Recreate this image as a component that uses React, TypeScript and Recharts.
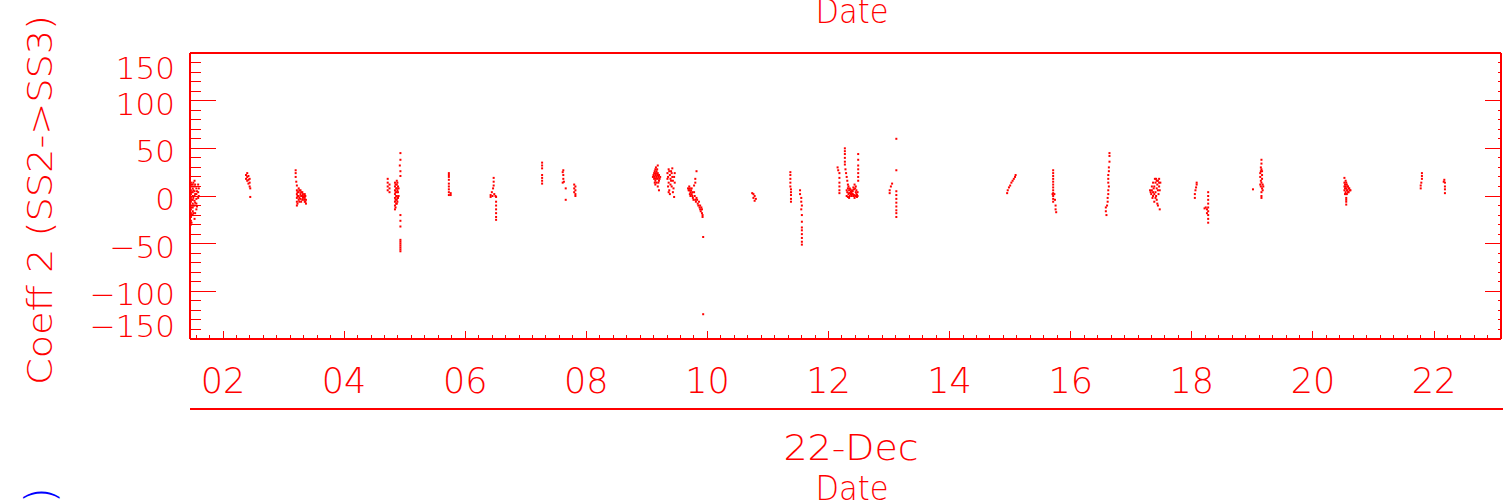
import { ScatterChart, Scatter, XAxis, YAxis, Customized } from 'recharts'

const RED = '#ff0000'
const FONT = '"DejaVu Sans", sans-serif'

// [day of December, coeff 2]
const earlyDec: [number, number][] = [
  [1.47, 14], [1.47, 10], [1.47, 6], [1.47, 2], [1.47, -2], [1.47, -6], [1.47, -10], [1.47, -14],
  [1.47, -18], [1.47, -22], [1.47, -26], [1.47, -30], [1.5, 12], [1.5, 8], [1.5, 4], [1.5, 0],
  [1.5, -4], [1.5, -8], [1.5, -12], [1.5, -16], [1.5, -20], [1.53, 16], [1.53, 10], [1.53, 5],
  [1.53, 0], [1.53, -5], [1.53, -10], [1.53, -24], [1.56, 8], [1.56, 2], [1.56, -3], [1.56, -8],
  [1.56, -14], [1.59, 12], [1.59, 4], [1.59, -2],
  [1.48, 12], [1.48, 4], [1.48, -4], [1.48, -12], [1.48, -20], [1.48, -28], [1.51, 14], [1.51, 6],
  [1.51, -2], [1.51, -10], [1.51, -18], [1.54, 12], [1.54, 2], [1.54, -7], [1.54, -18], [1.57, 5],
  [1.57, -11], [1.6, 8], [1.6, 0],
  [2.38, 22], [2.38, 18], [2.4, 24], [2.4, 20], [2.4, 16], [2.42, 21], [2.42, 17], [2.42, 13],
  [2.44, 18], [2.44, 14], [2.44, 10], [2.45, 8], [2.45, -1],
  [3.2, 27], [3.2, 24], [3.2, 20], [3.21, 15], [3.22, 11], [3.22, 6], [3.22, 2], [3.22, -2],
  [3.22, -6], [3.22, -10], [3.25, 8], [3.25, 4], [3.25, 0], [3.25, -4], [3.28, 6], [3.28, 2],
  [3.28, -3], [3.31, 4], [3.31, 0], [3.31, -4], [3.33, -1], [3.35, 2], [3.35, -2], [3.35, -6],
  [3.37, -4], [3.37, -8],
  [3.23, 4], [3.23, 0], [3.23, -8], [3.26, 6], [3.26, -2], [3.26, -6], [3.29, 4], [3.29, 0],
  [3.29, -6], [3.32, 2], [3.32, -2], [3.34, 0], [3.34, -4], [3.36, -6], [3.36, 0],
  [4.72, 18], [4.72, 14], [4.72, 10], [4.72, 6], [4.75, 12], [4.75, 8], [4.75, 4],
  [4.84, 14], [4.84, 10], [4.84, 6], [4.84, 2], [4.84, -2], [4.84, -6], [4.84, -10], [4.84, -14],
  [4.87, 16], [4.87, 12], [4.87, 8], [4.87, 4], [4.87, 0], [4.87, -4], [4.87, -8], [4.89, 10],
  [4.89, 4], [4.89, -2], [4.93, 45], [4.93, 38], [4.92, 32], [4.93, 26], [4.93, 21], [4.93, -20],
  [4.93, -26], [4.93, -32], [4.93, -46], [4.93, -48], [4.93, -50], [4.93, -52], [4.93, -54],
  [4.93, -56], [4.93, -58],
  [4.85, 12], [4.85, 4], [4.85, -4], [4.85, -12], [4.86, 8], [4.86, 0], [4.86, -8], [4.88, 14],
  [4.88, 6], [4.88, -2], [4.88, -6], [4.9, 8], [4.9, 0],
  [5.73, 24], [5.73, 22], [5.73, 20], [5.73, 17], [5.73, 13], [5.73, 10], [5.73, 7], [5.73, 4],
  [5.73, 1], [5.76, 3], [5.76, 1],
  [6.47, 19], [6.47, 15], [6.47, 11], [6.46, 8], [6.44, 4], [6.42, 1], [6.42, -1], [6.45, 0],
  [6.48, 2], [6.5, 0], [6.51, -1], [6.51, -6], [6.51, -10], [6.51, -14], [6.51, -18], [6.51, -22],
  [6.51, -25],
]

const midDec: [number, number][] = [
  [7.27, 35], [7.27, 32], [7.27, 29], [7.27, 22], [7.27, 19], [7.27, 16], [7.27, 13],
  [7.61, 25], [7.62, 27], [7.62, 22], [7.62, 18], [7.63, 15], [7.61, 14], [7.66, 8], [7.66, -4],
  [7.8, 12], [7.8, 8], [7.8, 4], [7.82, 10], [7.82, 6], [7.82, 2], [7.82, 0],
  [9.1, 20], [9.12, 24], [9.12, 18], [9.14, 28], [9.14, 22], [9.14, 16], [9.14, 12], [9.16, 26],
  [9.16, 20], [9.16, 14], [9.18, 32], [9.18, 24], [9.18, 18], [9.18, 10], [9.2, 22], [9.2, 16],
  [9.2, 6], [9.22, 20],
  [9.11, 22], [9.13, 20], [9.13, 26], [9.15, 18], [9.15, 24], [9.17, 22], [9.17, 28], [9.19, 20],
  [9.19, 14], [9.21, 18], [9.13, 14], [9.15, 30],
  [9.34, 24], [9.34, 18], [9.35, 10], [9.36, 28], [9.36, 14], [9.37, 6], [9.38, 22], [9.38, 2],
  [9.4, 26], [9.4, 16], [9.41, 10], [9.42, 29], [9.42, 20], [9.43, 4], [9.45, -1], [9.46, 24],
  [9.46, 14], [9.35, 20], [9.37, 26], [9.39, 18], [9.41, 24], [9.43, 16], [9.44, 8], [9.36, 4],
  [9.39, 12], [9.45, 20],
  [9.82, 26], [9.8, 18], [9.8, 14], [9.78, 11], [9.68, 8], [9.7, 10], [9.7, 6], [9.72, 4],
  [9.72, 0], [9.74, 8], [9.74, 2], [9.76, -2], [9.78, 4], [9.8, -4], [9.82, -2], [9.84, -8],
  [9.86, -6], [9.88, -10], [9.88, -14], [9.9, -12], [9.91, -18], [9.92, -22], [9.93, -43],
  [9.93, -124],
  [9.69, 6], [9.71, 8], [9.71, 2], [9.73, 6], [9.75, 0], [9.75, 4], [9.77, -4], [9.79, 0],
  [9.81, -6], [9.83, -4], [9.85, -10], [9.87, -12], [9.89, -16], [9.91, -14], [9.92, -20],
  [10.74, 3], [10.76, 2], [10.76, -2], [10.78, 0], [10.78, -5], [10.8, -3],
  [11.37, 25], [11.37, 22], [11.37, 18], [11.37, 14], [11.37, 10], [11.38, 7], [11.38, 4],
  [11.38, 1], [11.38, -3], [11.38, -6],
  [11.53, 6], [11.53, 2], [11.55, -2], [11.55, -6], [11.56, -10], [11.55, -14], [11.56, -20],
  [11.56, -27], [11.56, -33], [11.56, -36], [11.56, -40], [11.56, -44], [11.56, -48], [11.56, -51],
  [12.15, 30], [12.16, 27], [12.18, 24], [12.18, 19], [12.18, 14], [12.18, 10], [12.18, 6],
  [12.18, 3],
  [12.27, 50], [12.27, 47], [12.27, 44], [12.27, 40], [12.27, 36], [12.27, 33], [12.28, 28],
  [12.29, 24], [12.3, 20], [12.31, 16], [12.32, 12], [12.33, 10], [12.35, 8], [12.37, 5],
  [12.39, 2], [12.41, 0], [12.43, -2], [12.33, 2], [12.35, 0], [12.37, 2], [12.39, 6], [12.41, 9],
  [12.43, 12], [12.45, 10], [12.45, 4], [12.47, 1], [12.47, -1], [12.3, 6], [12.3, 0],
  [12.31, 4], [12.32, 8], [12.34, 6], [12.34, 3], [12.36, 3], [12.36, 7], [12.38, 4], [12.38, 0],
  [12.4, 2], [12.4, 5], [12.42, 7], [12.42, 1], [12.44, 8], [12.44, 0], [12.46, 6], [12.46, 2],
  [12.48, 0], [12.32, -1], [12.34, -2], [12.48, 4],
  [12.49, 44], [12.49, 38], [12.49, 32], [12.49, 28], [12.49, 24], [12.49, 20], [12.49, 16],
  [13.12, 60], [13.12, 27], [13.05, 13], [13.03, 10], [13.01, 6], [13.01, 3], [13.12, 5],
  [13.12, 1], [13.12, -3], [13.12, -7], [13.12, -11], [13.12, -15], [13.12, -18], [13.12, -22],
]

const lateDec: [number, number][] = [
  [14.95, 3], [14.96, 6], [14.98, 9], [15.0, 11], [15.02, 14], [15.04, 16], [15.06, 18],
  [15.08, 20], [15.09, 22],
  [15.71, 27], [15.71, 24], [15.71, 21], [15.71, 18], [15.71, 15], [15.71, 12], [15.71, 9],
  [15.71, 6], [15.71, 3], [15.71, 0], [15.71, -3], [15.71, -6], [15.7, 2], [15.73, 2],
  [15.74, -4], [15.75, -10], [15.75, -14], [15.76, -17],
  [16.64, 45], [16.64, 42], [16.64, 36], [16.63, 30], [16.63, 26], [16.62, 22], [16.62, 18],
  [16.62, 14], [16.63, 10], [16.62, 6], [16.62, 2], [16.61, -2], [16.61, -6], [16.6, -10],
  [16.58, -12], [16.58, -16], [16.59, -20],
  [17.31, 6], [17.33, 2], [17.34, 10], [17.35, -2], [17.36, 14], [17.37, 8], [17.38, -6],
  [17.39, 18], [17.4, 4], [17.41, 0], [17.42, 16], [17.43, 12], [17.44, 6], [17.44, -10],
  [17.46, 18], [17.46, 10], [17.47, -14], [17.48, 14],
  [17.32, 4], [17.34, 6], [17.36, 0], [17.36, 4], [17.38, 10], [17.38, 2], [17.4, 14], [17.4, -2],
  [17.42, 8], [17.42, -4], [17.44, 16], [17.45, 2], [17.46, 14], [17.47, 6], [17.43, -8],
  [17.41, 18],
  [18.05, -2], [18.05, 2], [18.06, 6], [18.07, 9], [18.08, 12], [18.08, 14],
  [18.27, 4], [18.27, 0], [18.27, -4], [18.27, -8], [18.27, -12], [18.27, -16], [18.27, -20],
  [18.27, -24], [18.27, -28], [18.21, -13], [18.23, -12], [18.25, -14], [18.25, -18],
  [19.01, 7], [19.15, 38], [19.15, 34], [19.15, 28], [19.13, 24], [19.13, 20], [19.14, 16],
  [19.16, 22], [19.17, 12], [19.16, 8], [19.18, 10], [19.15, 4], [19.15, 0], [19.15, -2],
  [19.13, 12], [19.14, 30], [19.14, 26], [19.16, 26], [19.16, 18], [19.14, 10], [19.17, 6],
  [19.15, 14],
  [20.52, 19], [20.52, 14], [20.52, 10], [20.52, 6], [20.54, 16], [20.54, 10], [20.54, 4],
  [20.56, 12], [20.56, 6], [20.56, 2], [20.58, 10], [20.58, 4], [20.6, 8], [20.62, 6],
  [20.55, -2], [20.55, -6], [20.55, -9],
  [20.53, 12], [20.53, 8], [20.53, 2], [20.55, 14], [20.55, 8], [20.55, 2], [20.57, 10],
  [20.57, 6], [20.59, 8], [20.59, 4], [20.61, 6], [20.55, -4],
  [21.78, 8], [21.78, 11], [21.79, 14], [21.8, 18], [21.8, 21], [21.8, 24],
  [22.16, 15], [22.17, 17], [22.18, 14], [22.18, 10], [22.18, 7], [22.18, 3],
]

const dayTicks = [2, 4, 6, 8, 10, 12, 14, 16, 18, 20, 22]
const dayLabels = ['02', '04', '06', '08', '10', '12', '14', '16', '18', '20', '22']
const coeffTicks = [-150, -100, -50, 0, 50, 100, 150]

const DAY_MIN = 1.455
const DAY_MAX = 23.106

// minor ticks: 9 per 2-day interval, like the IDL plot
const minorDays: number[] = []
for (let k = -3; k <= 100; k++) {
  const d = 2 + (k * 2) / 9
  if (d >= DAY_MIN && d <= DAY_MAX) minorDays.push(d)
}
const minorCoeff: number[] = []
for (let v = -150; v <= 150; v += 10) minorCoeff.push(v)

const toPoints = (arr: [number, number][]) => arr.map(([d, v]) => ({ d, v }))

const isMajorDay = (v: number) => dayTicks.findIndex((d) => Math.abs(d - v) < 1e-4)

const Dot = (p: any) => <rect x={p.cx - 1} y={p.cy - 1} width={2} height={2} fill={RED} />

function BottomTick({ x, y, payload }: any) {
  const i = isMajorDay(payload.value)
  return (
    <g>
      <line x1={x} x2={x} y1={y} y2={y - (i >= 0 ? 8 : 4)} stroke={RED} shapeRendering="crispEdges" />
      {i >= 0 && (
        <text x={x} y={y + 54} textAnchor="middle" fill={RED} fontFamily={FONT} fontWeight={200} fontSize={35}>
          {dayLabels[i]}
        </text>
      )}
    </g>
  )
}

function TopTick({ x, y, payload }: any) {
  const major = isMajorDay(payload.value) >= 0
  return <line x1={x} x2={x} y1={y} y2={y + (major ? 8 : 4)} stroke={RED} shapeRendering="crispEdges" />
}

function LeftTick({ x, y, payload }: any) {
  const v = payload.value
  const major = coeffTicks.includes(v)
  const dy = v === 150 ? 26 : v === -150 ? -2 : 14
  const label = v < 0 ? `\u2212${Math.abs(v)}` : `${v}`
  return (
    <g>
      <line x1={x} x2={x + (major ? 26 : 11)} y1={y} y2={y} stroke={RED} shapeRendering="crispEdges" />
      {major && (
        <text x={x - 15} y={y + dy} textAnchor="end" fill={RED} fontFamily={FONT} fontWeight={200} fontSize={31}>
          {label}
        </text>
      )}
    </g>
  )
}

function RightTick({ x, y, payload }: any) {
  const major = coeffTicks.includes(payload.value) && Math.abs(payload.value) < 150
  return <line x1={x} x2={x - (major ? 16 : 3)} y1={y} y2={y} stroke={RED} shapeRendering="crispEdges" />
}

function Decor() {
  return (
    <g fill={RED} fontFamily={FONT} fontWeight={200}>
      <text x={852} y={23} textAnchor="middle" fontSize={34} textLength={73} lengthAdjust="spacingAndGlyphs">
        Date
      </text>
      <line x1={190} x2={1503} y1={409} y2={409} stroke={RED} strokeWidth={2} shapeRendering="crispEdges" />
      <text x={851} y={460} textAnchor="middle" fontSize={35} textLength={135} lengthAdjust="spacingAndGlyphs">
        22-Dec
      </text>
      <text x={852} y={500} textAnchor="middle" fontSize={33} textLength={73} lengthAdjust="spacingAndGlyphs">
        Date
      </text>
      <text
        transform="translate(52,200) rotate(-90)"
        textAnchor="middle"
        fontSize={34}
        textLength={370}
        lengthAdjust="spacingAndGlyphs"
      >
        Coeff 2 (SS2-&gt;SS3)
      </text>
      <text transform="translate(54,503) rotate(-90)" fill="#0000ff" fontSize={40}>
        )
      </text>
    </g>
  )
}

export default function App() {
  return (
    <div style={{ position: 'absolute', left: 0, top: 0, background: '#fff' }}>
      <ScatterChart width={1503} height={504} margin={{ top: 52, right: 1, bottom: 0, left: 0 }}>
        <XAxis
          xAxisId="b"
          type="number"
          dataKey="d"
          domain={[DAY_MIN, DAY_MAX]}
          allowDataOverflow
          ticks={minorDays}
          interval={0}
          tick={<BottomTick />}
          tickSize={0}
          tickMargin={0}
          tickLine={false}
          height={165}
          axisLine={{ stroke: RED, strokeWidth: 2 }}
        />
        <XAxis
          xAxisId="t"
          orientation="top"
          type="number"
          domain={[DAY_MIN, DAY_MAX]}
          allowDataOverflow
          ticks={minorDays}
          interval={0}
          tick={<TopTick />}
          tickSize={0}
          tickMargin={0}
          tickLine={false}
          height={1}
          axisLine={{ stroke: RED, strokeWidth: 2 }}
        />
        <YAxis
          yAxisId="l"
          type="number"
          dataKey="v"
          domain={[-150, 150]}
          allowDataOverflow
          ticks={minorCoeff}
          interval={0}
          tick={<LeftTick />}
          tickSize={0}
          tickMargin={0}
          tickLine={false}
          width={190}
          axisLine={{ stroke: RED, strokeWidth: 2 }}
        />
        <YAxis
          yAxisId="r"
          orientation="right"
          type="number"
          domain={[-150, 150]}
          allowDataOverflow
          ticks={minorCoeff}
          interval={0}
          tick={<RightTick />}
          tickSize={0}
          tickMargin={0}
          tickLine={false}
          width={1}
          axisLine={{ stroke: RED, strokeWidth: 2 }}
        />
        <Scatter xAxisId="b" yAxisId="l" data={toPoints(earlyDec)} shape={Dot} isAnimationActive={false} />
        <Scatter xAxisId="b" yAxisId="l" data={toPoints(midDec)} shape={Dot} isAnimationActive={false} />
        <Scatter xAxisId="b" yAxisId="l" data={toPoints(lateDec)} shape={Dot} isAnimationActive={false} />
        <Customized component={Decor} />
      </ScatterChart>
    </div>
  )
}
